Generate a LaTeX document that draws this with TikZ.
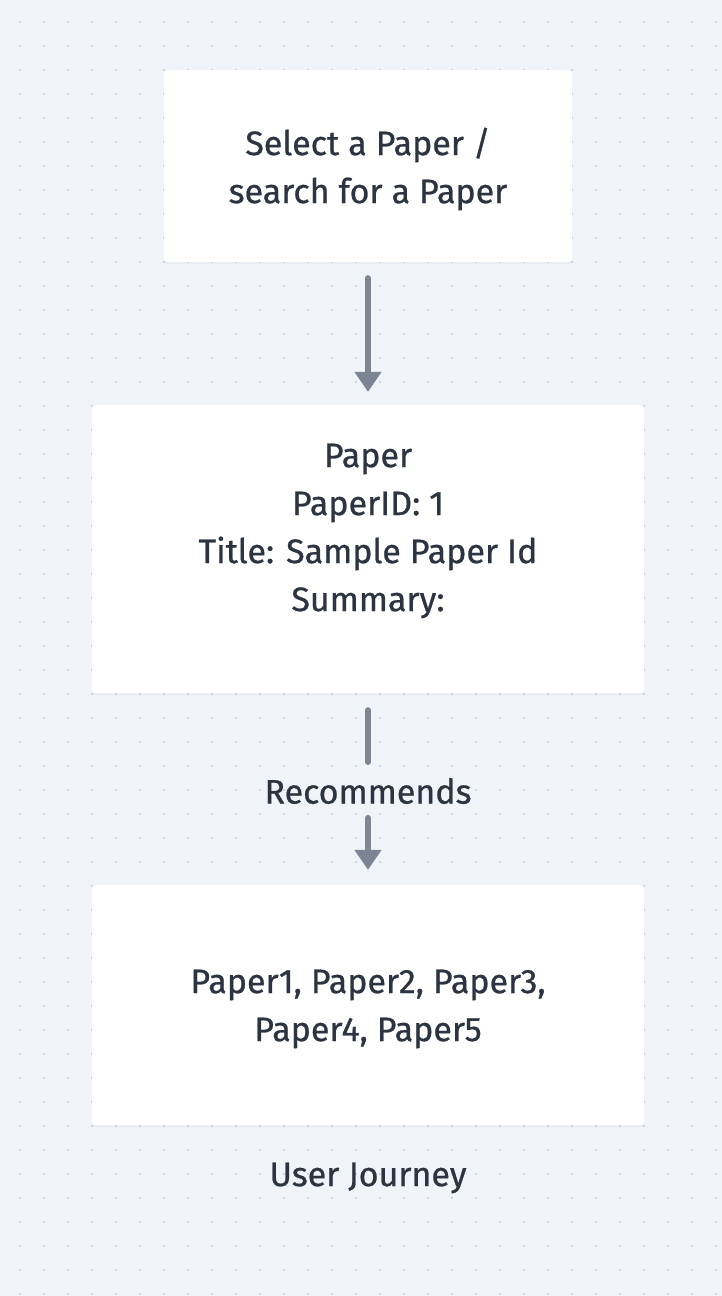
\documentclass[tikz,border=0pt]{standalone}
\usepackage{fontspec}
\setmainfont{Fira Sans}[RawFeature={embolden=0.7}]
\usetikzlibrary{arrows.meta,shadows}
\definecolor{bgc}{HTML}{F0F3F7}
\definecolor{dotc}{HTML}{C5CAD3}
\definecolor{arrc}{HTML}{7B8594}
\definecolor{txtc}{HTML}{2B3440}
\tikzset{
  box/.style={fill=white, rounded corners=3pt, align=center, text=txtc,
    font=\fontsize{34pt}{48pt}\selectfont,
    drop shadow={opacity=0.06, shadow xshift=0pt, shadow yshift=-2pt}},
  conn/.style={draw=arrc, line width=6pt, line cap=round},
  lbl/.style={text=txtc, font=\fontsize{34pt}{48pt}\selectfont}
}
\begin{document}
\begin{tikzpicture}[x=1pt,y=-1pt]
\useasboundingbox (0,0) rectangle (722,1296);
\fill[bgc] (0,0) rectangle (722,1296);
\foreach \i in {0,...,29}{
  \foreach \j in {0,...,53}{
    \fill[dotc] (20+24*\i,22+24*\j) circle (1.1pt);
  }
}
\node[box, minimum width=408pt, minimum height=192pt] (b1) at (368,166) {};
\node[box, minimum width=552pt, minimum height=288pt] (b2) at (368,549) {};
\node[box, minimum width=552pt, minimum height=240pt] (b3) at (368,1005) {};
\node[lbl, align=center] (t1) at (368,169) {Select a Paper /\\search for a Paper};
\node[lbl, align=center] (t2) at (368,531) {Paper\\PaperID: 1\\Title: Sample Paper Id\\Summary:};
\node[lbl, align=center] (t3) at (368,1009) {Paper1, Paper2, Paper3,\\Paper4, Paper5};
\node[lbl] (rec) at (368,791) {Recommends};
\node[lbl] (uj) at (368,1178) {User Journey};
\draw[conn, -{Triangle[width=26pt,length=20pt]}] ([yshift=-16pt]b1.south) -- ([yshift=13pt]b2.north);
\draw[conn] ([yshift=-17pt]b2.south) -- ([yshift=29pt]rec.center);
\draw[conn, -{Triangle[width=26pt,length=20pt]}] ([yshift=-27pt]rec.center) -- ([yshift=15pt]b3.north);
\end{tikzpicture}
\end{document}
